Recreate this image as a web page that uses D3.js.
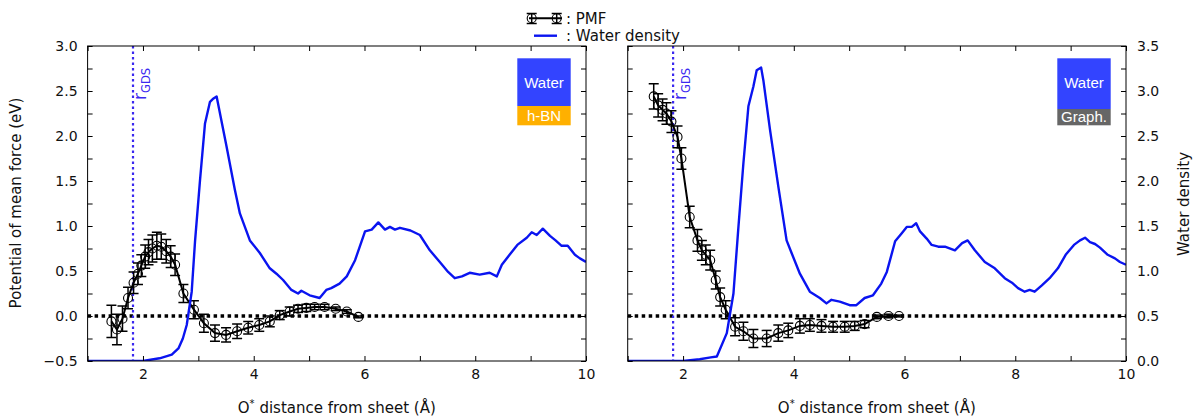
<!DOCTYPE html>
<html>
<head>
<meta charset="utf-8">
<script src="https://cdn.jsdelivr.net/npm/d3@7"></script>
<style>
  body { margin: 0; background: #fff; }
  svg text { font-family: "DejaVu Sans", sans-serif; fill: #111; }
</style>
</head>
<body>
<div id="chart"></div>
<script>
// ---- data ----
// h-BN panel: PMF (eV) with error bars
const bnPmfX = [1.43, 1.53, 1.63, 1.73, 1.83, 1.91, 1.97, 2.04, 2.10, 2.17, 2.25, 2.33, 2.42, 2.50, 2.58, 2.73, 2.92, 3.10, 3.30, 3.50, 3.70, 3.90, 4.10, 4.29, 4.47, 4.65, 4.80, 4.95, 5.10, 5.28, 5.48, 5.68, 5.89]
const bnPmfY = [-0.06, -0.15, -0.03, 0.20, 0.37, 0.47, 0.56, 0.66, 0.71, 0.75, 0.78, 0.77, 0.72, 0.66, 0.57, 0.25, 0.07, -0.08, -0.19, -0.21, -0.17, -0.13, -0.10, -0.06, 0.01, 0.05, 0.08, 0.09, 0.10, 0.10, 0.08, 0.05, -0.01]
const bnPmfErr = [0.18, 0.17, 0.14, 0.12, 0.12, 0.12, 0.12, 0.13, 0.14, 0.15, 0.15, 0.14, 0.13, 0.12, 0.12, 0.10, 0.10, 0.10, 0.09, 0.08, 0.08, 0.07, 0.07, 0.06, 0.05, 0.05, 0.04, 0.04, 0.03, 0.03, 0.02, 0.02, 0.01]
// h-BN panel: water density
const bnDensX = [1.0, 2.0, 2.3, 2.52, 2.64, 2.72, 2.79, 2.88, 2.94, 3.03, 3.12, 3.21, 3.26, 3.33, 3.51, 3.66, 3.75, 3.93, 4.11, 4.29, 4.41, 4.53, 4.68, 4.80, 4.86, 5.01, 5.19, 5.31, 5.40, 5.55, 5.68, 5.83, 6.01, 6.13, 6.25, 6.37, 6.46, 6.55, 6.64, 6.83, 7.0, 7.18, 7.36, 7.51, 7.63, 7.76, 7.9, 8.08, 8.26, 8.39, 8.48, 8.62, 8.76, 8.93, 9.02, 9.11, 9.22, 9.35, 9.45, 9.56, 9.67, 9.8, 9.89, 10.0]
const bnDensY = [0.0, 0.0, 0.03, 0.07, 0.14, 0.25, 0.40, 0.77, 1.33, 2.01, 2.64, 2.88, 2.91, 2.94, 2.38, 1.90, 1.64, 1.34, 1.20, 1.03, 0.97, 0.90, 0.79, 0.75, 0.78, 0.73, 0.70, 0.79, 0.81, 0.86, 0.94, 1.12, 1.44, 1.46, 1.54, 1.46, 1.49, 1.46, 1.48, 1.45, 1.40, 1.23, 1.10, 0.99, 0.92, 0.94, 0.98, 0.96, 0.98, 0.94, 1.07, 1.18, 1.29, 1.37, 1.43, 1.40, 1.47, 1.39, 1.34, 1.28, 1.28, 1.18, 1.14, 1.10]

// graphene panel: PMF (eV) with error bars
const grPmfX = [1.47, 1.55, 1.63, 1.70, 1.79, 1.90, 1.97, 2.12, 2.26, 2.34, 2.41, 2.49, 2.59, 2.67, 2.77, 2.94, 3.09, 3.27, 3.51, 3.72, 3.90, 4.11, 4.29, 4.50, 4.71, 4.92, 5.10, 5.28, 5.50, 5.71, 5.90]
const grPmfY = [2.44, 2.34, 2.29, 2.25, 2.16, 1.99, 1.75, 1.10, 0.84, 0.73, 0.68, 0.62, 0.40, 0.21, 0.07, -0.12, -0.17, -0.25, -0.25, -0.19, -0.16, -0.11, -0.10, -0.11, -0.12, -0.12, -0.11, -0.09, -0.01, 0.00, 0.00]
const grPmfErr = [0.14, 0.13, 0.12, 0.12, 0.12, 0.12, 0.12, 0.12, 0.12, 0.11, 0.11, 0.11, 0.10, 0.10, 0.10, 0.10, 0.10, 0.10, 0.09, 0.09, 0.08, 0.08, 0.07, 0.07, 0.06, 0.06, 0.05, 0.04, 0.02, 0.02, 0.01]
// graphene panel: water density
const grDensX = [1.0, 2.0, 2.3, 2.5, 2.61, 2.79, 2.91, 3.0, 3.09, 3.18, 3.27, 3.33, 3.41, 3.45, 3.57, 3.72, 3.87, 3.96, 4.11, 4.29, 4.47, 4.59, 4.68, 4.83, 5.01, 5.13, 5.28, 5.43, 5.58, 5.68, 5.83, 5.95, 6.04, 6.13, 6.21, 6.28, 6.40, 6.49, 6.61, 6.73, 6.91, 7.04, 7.14, 7.27, 7.45, 7.63, 7.81, 7.94, 8.05, 8.17, 8.26, 8.35, 8.48, 8.62, 8.77, 8.91, 9.06, 9.17, 9.26, 9.35, 9.44, 9.53, 9.67, 9.8, 9.89, 10.0]
const grDensY = [0.0, 0.0, 0.02, 0.04, 0.05, 0.31, 0.75, 1.49, 2.20, 2.83, 3.05, 3.23, 3.26, 3.12, 2.57, 1.94, 1.34, 1.20, 0.97, 0.77, 0.70, 0.64, 0.68, 0.66, 0.62, 0.62, 0.70, 0.73, 0.86, 0.99, 1.33, 1.42, 1.49, 1.49, 1.53, 1.44, 1.36, 1.29, 1.27, 1.27, 1.23, 1.31, 1.34, 1.23, 1.10, 1.03, 0.92, 0.87, 0.81, 0.77, 0.79, 0.77, 0.84, 0.92, 1.03, 1.18, 1.29, 1.34, 1.37, 1.32, 1.30, 1.26, 1.18, 1.14, 1.10, 1.07]

const rGds = 1.82
const substrateLabels = ["h-BN", "Graph."]
const substrateColors = ["#ffb000", "#666666"]

// ticks
const xTicks = [2, 4, 6, 8, 10]
const pmfTicks = [-0.5, 0.0, 0.5, 1.0, 1.5, 2.0, 2.5, 3.0]
const densTicks = [0.0, 0.5, 1.0, 1.5, 2.0, 2.5, 3.0, 3.5]

// ---- layout ----
const W = 1194, H = 417
const yTop = 46, yBottom = 361
const panelsX = [[87.6, 586], [627.7, 1126]]
const blue = "#0a14f0"
const gdsColor = "#3a28f0"

const svg = d3.select("#chart").append("svg")
  .attr("width", W).attr("height", H)

const fmt = d3.format(".1f")
const xMinor = d3.range(1, 10.01, 1)
const pmfMinor = d3.range(-0.5, 3.01, 0.25)
const densMinor = d3.range(0, 3.51, 0.25)
const isIn = (arr, d) => arr.some(v => Math.abs(v - d) < 1e-6)

const panels = [
  {pmfX: bnPmfX, pmfY: bnPmfY, pmfErr: bnPmfErr, densX: bnDensX, densY: bnDensY, split: 106, leftLabels: true, rightLabels: false},
  {pmfX: grPmfX, pmfY: grPmfY, pmfErr: grPmfErr, densX: grDensX, densY: grDensY, split: 109, leftLabels: false, rightLabels: true}
]

panels.forEach(function(p, i) {
  let [x0, x1] = panelsX[i]
  let x = d3.scaleLinear().domain([1, 10]).range([x0, x1])
  let yPmf = d3.scaleLinear().domain([-0.5, 3.0]).range([yBottom, yTop])
  let yDen = d3.scaleLinear().domain([0, 3.5]).range([yBottom, yTop])
  let g = svg.append("g")

  // clip so lines stay inside the frame
  let clipId = "clip" + i
  svg.append("clipPath").attr("id", clipId)
    .append("rect").attr("x", x0).attr("y", yTop).attr("width", x1 - x0).attr("height", yBottom - yTop)
  let plot = g.append("g").attr("clip-path", "url(#" + clipId + ")")

  // zero line
  plot.append("line")
    .attr("x1", x(1)).attr("x2", x(10))
    .attr("y1", yPmf(0)).attr("y2", yPmf(0))
    .attr("stroke", "#000").attr("stroke-width", 3.5)
    .attr("stroke-dasharray", "3.5,3.5")

  // r_GDS line
  plot.append("line")
    .attr("x1", x(rGds)).attr("x2", x(rGds))
    .attr("y1", yTop).attr("y2", yBottom)
    .attr("stroke", gdsColor).attr("stroke-width", 2.2)
    .attr("stroke-dasharray", "2.5,3")

  let pmf = p.pmfX.map((d, j) => ({x: d, y: p.pmfY[j], e: p.pmfErr[j]}))

  // error bars
  let eb = plot.append("g").attr("stroke", "#000").attr("stroke-width", 1.5)
  pmf.forEach(function(d) {
    eb.append("line")
      .attr("x1", x(d.x)).attr("x2", x(d.x))
      .attr("y1", yPmf(d.y - d.e)).attr("y2", yPmf(d.y + d.e))
    ;[d.y - d.e, d.y + d.e].forEach(function(v) {
      eb.append("line")
        .attr("x1", x(d.x) - 5).attr("x2", x(d.x) + 5)
        .attr("y1", yPmf(v)).attr("y2", yPmf(v))
    })
  })

  plot.append("path")
    .datum(pmf)
    .attr("fill", "none").attr("stroke", "#000").attr("stroke-width", 2)
    .attr("d", d3.line().x(d => x(d.x)).y(d => yPmf(d.y)))

  plot.selectAll(".pt").data(pmf).enter().append("circle")
    .attr("class", "pt")
    .attr("cx", d => x(d.x)).attr("cy", d => yPmf(d.y))
    .attr("r", 4.5)
    .attr("fill", "none").attr("stroke", "#000").attr("stroke-width", 1.1)

  // water density
  let dens = p.densX.map((d, j) => ({x: d, y: p.densY[j]}))
  plot.append("path")
    .datum(dens)
    .attr("fill", "none").attr("stroke", blue).attr("stroke-width", 2.4)
    .attr("stroke-linejoin", "round")
    .attr("d", d3.line().x(d => x(d.x)).y(d => yDen(d.y)))

  // r_GDS label
  let rl = g.append("text")
    .attr("transform", "translate(" + (x(rGds) + 13) + "," + (yTop + 54) + ") rotate(-90)")
    .style("fill", gdsColor)
  rl.append("tspan").attr("font-size", 17).text("r")
  rl.append("tspan").attr("font-size", 11.5).attr("dy", 4).text("GDS")

  // substrate box
  let bx = x1 - 68.7, bw = 53.4
  g.append("rect").attr("x", bx).attr("y", 58.3).attr("width", bw).attr("height", p.split - 58.3)
    .attr("fill", "#3344ff")
  g.append("rect").attr("x", bx).attr("y", p.split).attr("width", bw).attr("height", 125.3 - p.split)
    .attr("fill", substrateColors[i])
  g.append("text").attr("x", bx + bw / 2).attr("y", 82.5).attr("dy", "0.35em")
    .attr("text-anchor", "middle")
    .style("font-family", "'Liberation Sans', Arial, sans-serif").style("font-size", "15px").style("fill", "#fff")
    .text("Water")
  g.append("text").attr("x", bx + bw / 2).attr("y", (p.split + 125.3) / 2).attr("dy", "0.35em")
    .attr("text-anchor", "middle")
    .style("font-family", "'Liberation Sans', Arial, sans-serif").style("font-size", "15px").style("fill", "#fff")
    .text(substrateLabels[i])

  // axes
  let ax = d3.axisBottom(x).tickValues(xMinor).tickSizeInner(-5).tickSizeOuter(0).tickPadding(8)
    .tickFormat(d => isIn(xTicks, d) ? d3.format("d")(d) : "")
  g.append("g").attr("transform", "translate(0," + yBottom + ")").call(ax)
  g.append("g").attr("transform", "translate(0," + yTop + ")")
    .call(d3.axisTop(x).tickValues(xMinor).tickSizeInner(-5).tickSizeOuter(0).tickFormat(""))

  let ay = d3.axisLeft(yPmf).tickValues(pmfMinor).tickSizeInner(-5).tickSizeOuter(0).tickPadding(10)
    .tickFormat(d => (p.leftLabels && isIn(pmfTicks, d)) ? fmt(d) : "")
  g.append("g").attr("transform", "translate(" + x0 + ",0)").call(ay)

  let ar = d3.axisRight(yDen).tickValues(densMinor).tickSizeInner(-5).tickSizeOuter(0).tickPadding(11)
    .tickFormat(d => (p.rightLabels && isIn(densTicks, d)) ? fmt(d) : "")
  g.append("g").attr("transform", "translate(" + x1 + ",0)").call(ar)

  g.selectAll(".domain").remove()
  g.selectAll(".tick line").attr("stroke", "#000")
  g.selectAll(".tick text").style("font-size", "14px").style("font-family", "'DejaVu Sans', sans-serif").attr("fill", "#111")

  g.append("rect").attr("x", x0).attr("y", yTop).attr("width", x1 - x0).attr("height", yBottom - yTop)
    .attr("fill", "none").attr("stroke", "#000").attr("stroke-width", 1)

  // x label
  let xl = g.append("text").attr("x", (x0 + x1) / 2).attr("y", 413)
    .attr("text-anchor", "middle").style("font-size", "15px")
  xl.append("tspan").text("O")
  xl.append("tspan").attr("dy", -6).style("font-size", "10px").text("*")
  xl.append("tspan").attr("dy", 6).text(" distance from sheet (Å)")
})

// axis titles
svg.append("text")
  .attr("transform", "translate(21,203) rotate(-90)")
  .attr("text-anchor", "middle").style("font-size", "15px")
  .text("Potential of mean force (eV)")
svg.append("text")
  .attr("transform", "translate(1189,204) rotate(-90)")
  .attr("text-anchor", "middle").style("font-size", "15px")
  .text("Water density")

// legend
const leg = svg.append("g")
const ly1 = 18.3, ly2 = 35.7
leg.append("line").attr("x1", 529).attr("x2", 562).attr("y1", ly1).attr("y2", ly1)
  .attr("stroke", "#000").attr("stroke-width", 2)
;[531.7, 556.7].forEach(function(cx) {
  leg.append("line").attr("x1", cx).attr("x2", cx).attr("y1", 13.5).attr("y2", 23.5)
    .attr("stroke", "#000").attr("stroke-width", 1.5)
  ;[13.5, 23.5].forEach(cy => leg.append("line").attr("x1", cx - 5).attr("x2", cx + 5)
    .attr("y1", cy).attr("y2", cy).attr("stroke", "#000").attr("stroke-width", 1.5))
  leg.append("circle").attr("cx", cx).attr("cy", ly1).attr("r", 4.5)
    .attr("fill", "none").attr("stroke", "#000").attr("stroke-width", 1.1)
})
leg.append("line").attr("x1", 534).attr("x2", 557).attr("y1", ly2).attr("y2", ly2)
  .attr("stroke", blue).attr("stroke-width", 2.4)
leg.append("text").attr("x", 566).attr("y", ly1).attr("dy", "0.38em").style("font-size", "15px").text(": PMF")
leg.append("text").attr("x", 566).attr("y", ly2).attr("dy", "0.38em").style("font-size", "15px").text(": Water density")
</script>
</body>
</html>
